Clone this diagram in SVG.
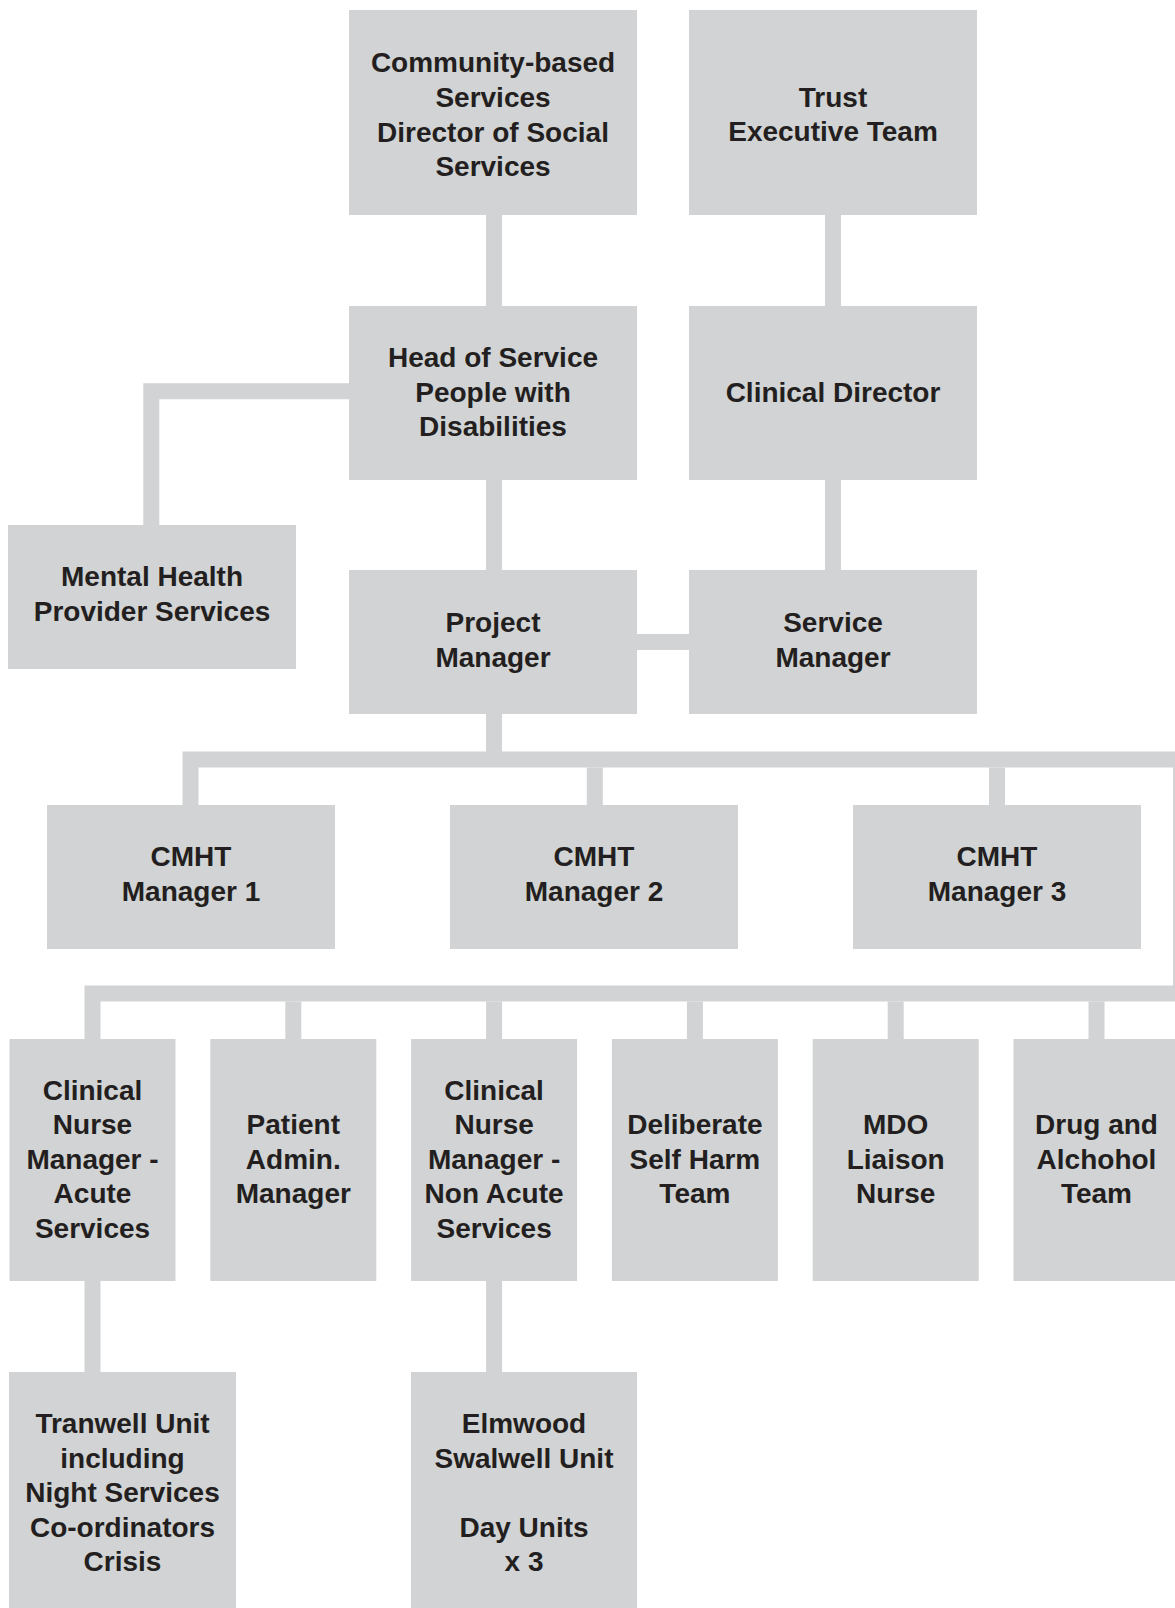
<svg xmlns="http://www.w3.org/2000/svg" width="1175" height="1608" viewBox="0 0 1175 1608">
<style>
.box{fill:#d1d3d4}
.t{font-family:"Liberation Sans",Arial,sans-serif;font-weight:bold;font-size:28px;fill:#231f20;text-anchor:middle}
.c{fill:none;stroke:#d1d3d4;stroke-width:16;stroke-linecap:butt;stroke-linejoin:miter}
</style>
<rect width="1175" height="1608" fill="#ffffff"/>
<g id="connectors">
<path class="c" d="M494,215V306"/>
<path class="c" d="M833,215V306"/>
<path class="c" d="M833,480V570"/>
<path class="c" d="M494,480V570"/>
<path class="c" d="M349,391.3H151.3V525"/>
<path class="c" d="M637,642H689"/>
<path class="c" d="M494,714V759.5"/>
<path class="c" d="M190.5,805V759.5H1181V993.5H92.5V1039"/>
<path class="c" d="M594.8,767.5V805"/>
<path class="c" d="M997,767.5V805"/>
<path class="c" d="M293.3,1001.5V1039"/>
<path class="c" d="M494.1,1001.5V1039"/>
<path class="c" d="M694.9,1001.5V1039"/>
<path class="c" d="M895.7,1001.5V1039"/>
<path class="c" d="M1096.5,1001.5V1039"/>
<path class="c" d="M92.5,1281V1372"/>
<path class="c" d="M494.1,1281V1372"/>
</g>
<g id="community">
<rect class="box" x="349" y="10" width="288" height="205"/>
<text class="t"><tspan x="493" y="72">Community-based</tspan><tspan x="493" y="107">Services</tspan><tspan x="493" y="141.5">Director of Social</tspan><tspan x="493" y="175.5">Services</tspan></text>
</g>
<g id="trust">
<rect class="box" x="689" y="10" width="288" height="205"/>
<text class="t"><tspan x="833" y="107">Trust</tspan><tspan x="833" y="141">Executive Team</tspan></text>
</g>
<g id="head">
<rect class="box" x="349" y="306" width="288" height="174"/>
<text class="t"><tspan x="493" y="367">Head of Service</tspan><tspan x="493" y="401.5">People with</tspan><tspan x="493" y="436">Disabilities</tspan></text>
</g>
<g id="clinical-director">
<rect class="box" x="689" y="306" width="288" height="174"/>
<text class="t"><tspan x="833" y="401.5">Clinical Director</tspan></text>
</g>
<g id="mental-health">
<rect class="box" x="8" y="525" width="288" height="144"/>
<text class="t"><tspan x="152" y="586">Mental Health</tspan><tspan x="152" y="621">Provider Services</tspan></text>
</g>
<g id="project-manager">
<rect class="box" x="349" y="570" width="288" height="144"/>
<text class="t"><tspan x="493" y="632">Project</tspan><tspan x="493" y="666.5">Manager</tspan></text>
</g>
<g id="service-manager">
<rect class="box" x="689" y="570" width="288" height="144"/>
<text class="t"><tspan x="833" y="632">Service</tspan><tspan x="833" y="666.5">Manager</tspan></text>
</g>
<g id="cmht1">
<rect class="box" x="47" y="805" width="288" height="144"/>
<text class="t"><tspan x="191" y="866">CMHT</tspan><tspan x="191" y="901">Manager 1</tspan></text>
</g>
<g id="cmht2">
<rect class="box" x="450" y="805" width="288" height="144"/>
<text class="t"><tspan x="594" y="866">CMHT</tspan><tspan x="594" y="901">Manager 2</tspan></text>
</g>
<g id="cmht3">
<rect class="box" x="853" y="805" width="288" height="144"/>
<text class="t"><tspan x="997" y="866">CMHT</tspan><tspan x="997" y="901">Manager 3</tspan></text>
</g>
<g id="cnm-acute">
<rect class="box" x="9.5" y="1039" width="166" height="242"/>
<text class="t"><tspan x="92.5" y="1099.5">Clinical</tspan><tspan x="92.5" y="1134">Nurse</tspan><tspan x="92.5" y="1168.5">Manager -</tspan><tspan x="92.5" y="1203">Acute</tspan><tspan x="92.5" y="1238">Services</tspan></text>
</g>
<g id="patient-admin">
<rect class="box" x="210.3" y="1039" width="166" height="242"/>
<text class="t"><tspan x="293.3" y="1134">Patient</tspan><tspan x="293.3" y="1168.5">Admin.</tspan><tspan x="293.3" y="1203">Manager</tspan></text>
</g>
<g id="cnm-nonacute">
<rect class="box" x="411.1" y="1039" width="166" height="242"/>
<text class="t"><tspan x="494.1" y="1099.5">Clinical</tspan><tspan x="494.1" y="1134">Nurse</tspan><tspan x="494.1" y="1168.5">Manager -</tspan><tspan x="494.1" y="1203">Non Acute</tspan><tspan x="494.1" y="1238">Services</tspan></text>
</g>
<g id="self-harm">
<rect class="box" x="611.9" y="1039" width="166" height="242"/>
<text class="t"><tspan x="694.9" y="1134">Deliberate</tspan><tspan x="694.9" y="1168.5">Self Harm</tspan><tspan x="694.9" y="1203">Team</tspan></text>
</g>
<g id="mdo">
<rect class="box" x="812.7" y="1039" width="166" height="242"/>
<text class="t"><tspan x="895.7" y="1134">MDO</tspan><tspan x="895.7" y="1168.5">Liaison</tspan><tspan x="895.7" y="1203">Nurse</tspan></text>
</g>
<g id="drug-alcohol">
<rect class="box" x="1013.5" y="1039" width="166" height="242"/>
<text class="t"><tspan x="1096.5" y="1134">Drug and</tspan><tspan x="1096.5" y="1168.5">Alchohol</tspan><tspan x="1096.5" y="1203">Team</tspan></text>
</g>
<g id="tranwell">
<rect class="box" x="9" y="1372" width="227" height="240"/>
<text class="t"><tspan x="122.5" y="1433">Tranwell Unit</tspan><tspan x="122.5" y="1467.5">including</tspan><tspan x="122.5" y="1502">Night Services</tspan><tspan x="122.5" y="1536.5">Co-ordinators</tspan><tspan x="122.5" y="1571">Crisis</tspan></text>
</g>
<g id="elmwood">
<rect class="box" x="411" y="1372" width="226" height="240"/>
<text class="t"><tspan x="524" y="1433">Elmwood</tspan><tspan x="524" y="1467.5">Swalwell Unit</tspan><tspan x="524" y="1536.5">Day Units</tspan><tspan x="524" y="1571">x 3</tspan></text>
</g>
</svg>
